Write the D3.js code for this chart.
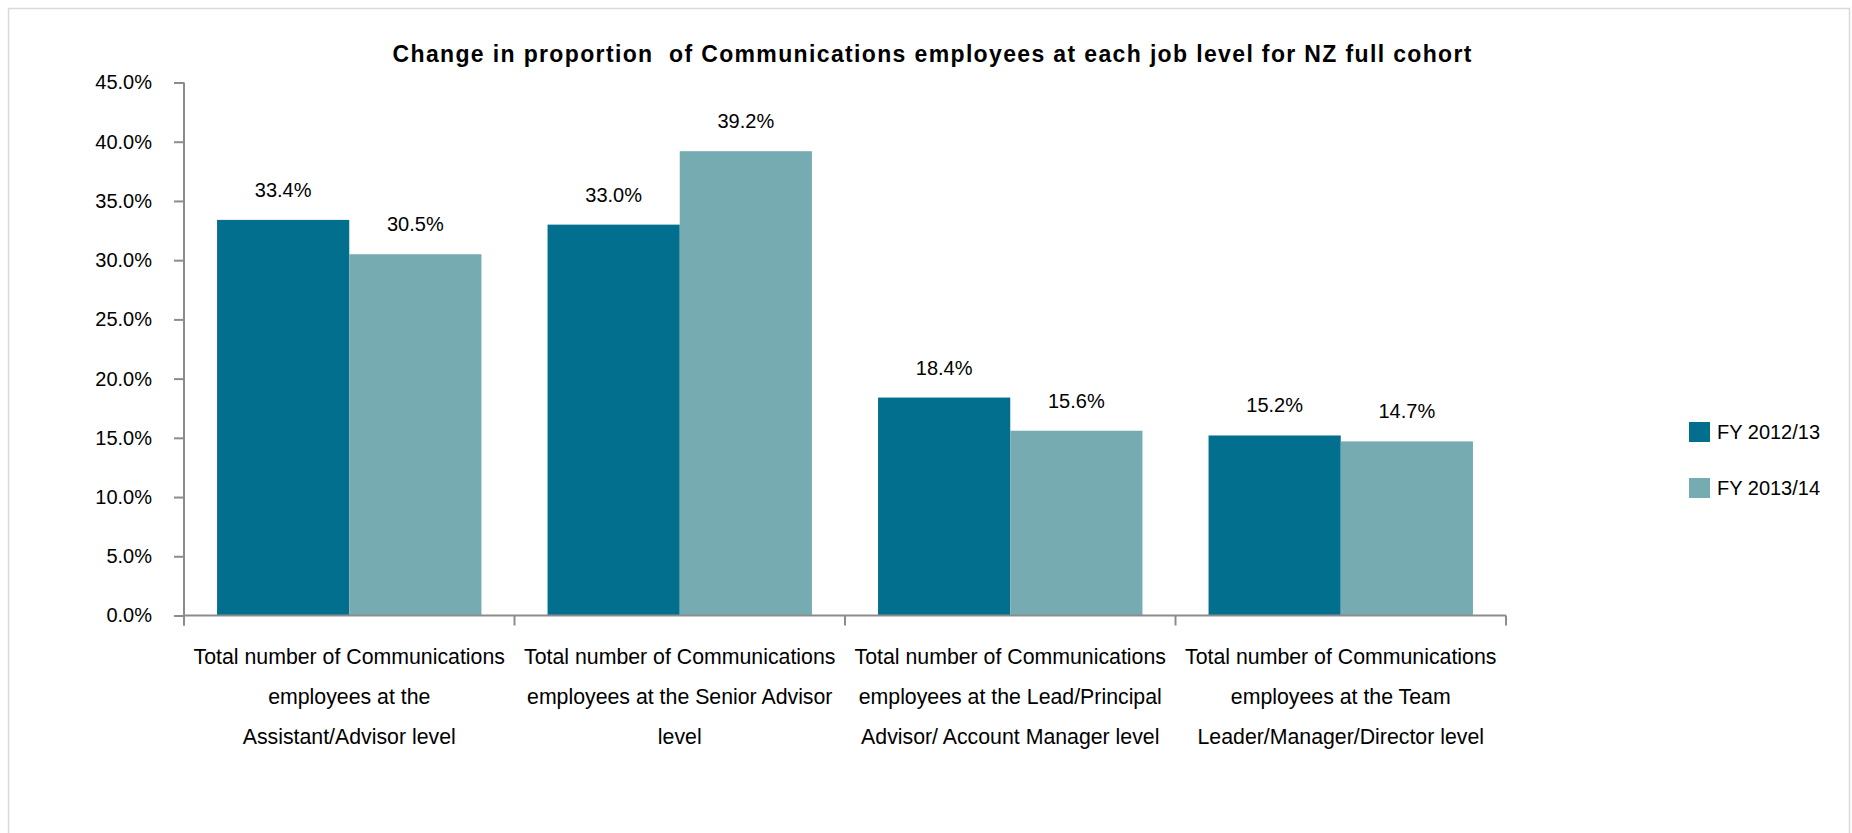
<!DOCTYPE html>
<html>
<head>
<meta charset="utf-8">
<script src="https://cdn.jsdelivr.net/npm/d3@7"></script>
<style>
  html, body { margin: 0; padding: 0; background: #ffffff; }
  svg { display: block; font-family: "Liberation Sans", Arial, sans-serif; }
</style>
</head>
<body>
<svg id="chart" width="1852" height="833"></svg>
<script>
// Job levels (x-axis categories), each label split into its display lines
const categories = [
  ["Total number of Communications", "employees at the", "Assistant/Advisor level"],
  ["Total number of Communications", "employees at the Senior Advisor", "level"],
  ["Total number of Communications", "employees at the Lead/Principal", "Advisor/ Account Manager level"],
  ["Total number of Communications", "employees at the Team", "Leader/Manager/Director level"]
];

const seriesNames = ["FY 2012/13", "FY 2013/14"];

// Proportion of employees (%) at each level
const fy2012 = [33.4, 33.0, 18.4, 15.2];
const fy2013 = [30.5, 39.2, 15.6, 14.7];

const yTicks = [0, 5, 10, 15, 20, 25, 30, 35, 40, 45];

const colors = ["#036f8e", "#76acb1"];

const svg = d3.select("#chart");

// outer chart frame
svg.append("rect")
  .attr("x", 8.5).attr("y", 8.5)
  .attr("width", 1841).attr("height", 840)
  .attr("fill", "none")
  .attr("stroke", "#d9d9d9")
  .attr("stroke-width", 1.5);

// title
svg.append("text")
  .attr("x", 932).attr("y", 62)
  .attr("text-anchor", "middle")
  .attr("font-size", 23)
  .attr("font-weight", "bold")
  .attr("fill", "#000")
  .attr("textLength", 1079)
  .attr("lengthAdjust", "spacing")
  .text("Change in proportion  of Communications employees at each job level for NZ full cohort")
  .style("white-space", "pre");

const plot = { left: 184, right: 1506, top: 82.5, bottom: 615.5 };

const x0 = d3.scaleBand()
  .domain(d3.range(categories.length))
  .range([plot.left, plot.right])
  .paddingInner(0.2)
  .paddingOuter(0.1);

const x1 = d3.scaleBand()
  .domain(d3.range(seriesNames.length))
  .range([0, x0.bandwidth()]);

const y = d3.scaleLinear()
  .domain([0, 45])
  .range([plot.bottom, plot.top]);

const axisColor = "#8c8c8c";

// y axis
const yAxis = svg.append("g")
  .attr("transform", `translate(${plot.left},0)`)
  .call(d3.axisLeft(y).tickValues(yTicks).tickSize(10).tickSizeOuter(0)
    .tickFormat(d => d.toFixed(1) + "%"));
yAxis.select(".domain").attr("stroke", axisColor).attr("stroke-width", 2)
  .attr("d", `M0,${plot.top}V${plot.bottom + 10}`);
yAxis.selectAll(".tick line").attr("stroke", axisColor).attr("stroke-width", 2);
yAxis.selectAll(".tick text")
  .attr("x", -32)
  .attr("font-size", 20)
  .attr("font-family", "Liberation Sans, Arial, sans-serif")
  .attr("fill", "#000");

// bars
const seriesData = [fy2012, fy2013];
const groups = svg.append("g").selectAll("g")
  .data(categories.map((c, i) => i))
  .join("g")
  .attr("transform", i => `translate(${x0(i)},0)`);

groups.selectAll("rect")
  .data(i => seriesData.map((s, k) => ({ k, v: s[i] })))
  .join("rect")
  .attr("x", d => x1(d.k))
  .attr("y", d => y(d.v))
  .attr("width", x1.bandwidth())
  .attr("height", d => y(0) - y(d.v))
  .attr("fill", d => colors[d.k]);

// value labels
groups.selectAll("text")
  .data(i => seriesData.map((s, k) => ({ k, v: s[i] })))
  .join("text")
  .attr("x", d => x1(d.k) + x1.bandwidth() / 2)
  .attr("y", d => y(d.v) - 23)
  .attr("text-anchor", "middle")
  .attr("font-size", 20)
  .attr("fill", "#000")
  .text(d => d.v.toFixed(1) + "%");

// x axis with ticks at category boundaries
const xAxisG = svg.append("g");
xAxisG.append("line")
  .attr("x1", plot.left).attr("x2", plot.right)
  .attr("y1", plot.bottom).attr("y2", plot.bottom)
  .attr("stroke", axisColor).attr("stroke-width", 2);
const step = x0.step();
const boundaries = d3.range(categories.length + 1).map(i => x0(0) - x0.paddingOuter() * step + i * step);
xAxisG.selectAll(".bt")
  .data(boundaries)
  .join("line")
  .attr("x1", d => d).attr("x2", d => d)
  .attr("y1", plot.bottom).attr("y2", plot.bottom + 10)
  .attr("stroke", axisColor).attr("stroke-width", 2);

// category labels
const catLabels = svg.append("g").selectAll("text")
  .data(categories)
  .join("text")
  .attr("text-anchor", "middle")
  .attr("font-size", 21.3)
  .attr("fill", "#000");
catLabels.each(function(lines, i) {
  const cx = x0(i) + x0.bandwidth() / 2;
  d3.select(this).selectAll("tspan")
    .data(lines)
    .join("tspan")
    .attr("x", cx)
    .attr("y", (d, j) => 664 + j * 40)
    .text(d => d);
});

// legend
const legend = svg.append("g");
seriesNames.forEach((name, k) => {
  const top = 422 + k * 56;
  legend.append("rect")
    .attr("x", 1689).attr("y", top)
    .attr("width", 21).attr("height", 20)
    .attr("fill", colors[k]);
  legend.append("text")
    .attr("x", 1717).attr("y", top + 17)
    .attr("font-size", 20)
    .attr("fill", "#000")
    .text(name);
});
</script>
</body>
</html>
